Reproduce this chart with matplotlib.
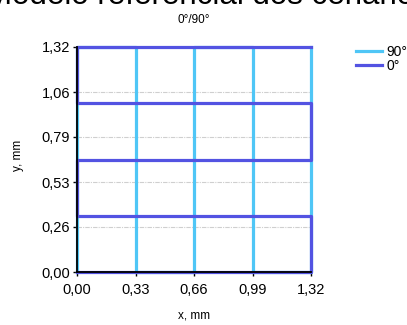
import numpy as np
import matplotlib.pyplot as plt
from matplotlib.ticker import FuncFormatter

plt.rcParams["font.family"] = ["Liberation Sans", "DejaVu Sans"]

# serpentine paths for the two ply orientations (mm)
x_0 = [0, 1.32, 1.32, 0, 0, 1.32, 1.32, 0, 0, 1.32]
y_0 = [0, 0, 0.33, 0.33, 0.66, 0.66, 0.99, 0.99, 1.32, 1.32]
x_90 = [0, 0, 0.33, 0.33, 0.66, 0.66, 0.99, 0.99, 1.32, 1.32]
y_90 = [0, 1.32, 1.32, 0, 0, 1.32, 1.32, 0, 0, 1.32]

x_ticks = [0, 0.33, 0.66, 0.99, 1.32]
y_ticks = [0, 0.264, 0.528, 0.792, 1.056, 1.32]

fig = plt.figure(figsize=(4.07, 3.25), dpi=100)
ax = fig.add_axes([77/407, 1 - 272/325, 234/407, 225/325])

ax.plot(x_90, y_90, color="#4FC6F6", lw=2.3, label="90°", clip_on=False, zorder=3)
ax.plot(x_0, y_0, color="#5353E2", lw=2.3, label="0°", clip_on=False, zorder=4)

ax.set_xlim(0, 1.32)
ax.set_ylim(0, 1.32)
ax.set_xticks(x_ticks)
ax.set_yticks(y_ticks)
comma = FuncFormatter(lambda v, _: f"{v:.2f}".replace(".", ","))
ax.xaxis.set_major_formatter(comma)
ax.yaxis.set_major_formatter(comma)
ax.tick_params(labelsize=10.5, length=3, width=1, color="black")
ax.tick_params(axis="x", pad=5)
ax.tick_params(axis="y", pad=2)
ax.yaxis.grid(True, color="#cfcfcf", lw=0.8, ls=(0, (4, 1, 1, 1)))
ax.set_axisbelow(True)

for side in ("top", "right"):
    ax.spines[side].set_visible(False)
for side in ("left", "bottom"):
    ax.spines[side].set_linewidth(1.3)
    ax.spines[side].set_zorder(5)

ax.set_xlabel("x, mm", fontsize=8.5)
ax.set_ylabel("y, mm", fontsize=8.5)
ax.xaxis.set_label_coords(0.5, -0.165)
ax.yaxis.set_label_coords(-0.225, 0.52)
ax.set_title("0°/90°", fontsize=8.5, pad=17)

fig.text(-0.035, 1 - 4/325, "Modelo referencial dos cenários", fontsize=22.5,
         ha="left", va="baseline")

fig.legend(loc="upper left", bbox_to_anchor=(350/407, 1 - 39/325), frameon=False,
           fontsize=10, handlelength=1.9, handletextpad=0.3, labelspacing=0.05,
           borderaxespad=0)

fig.savefig("out.png", dpi=100)
